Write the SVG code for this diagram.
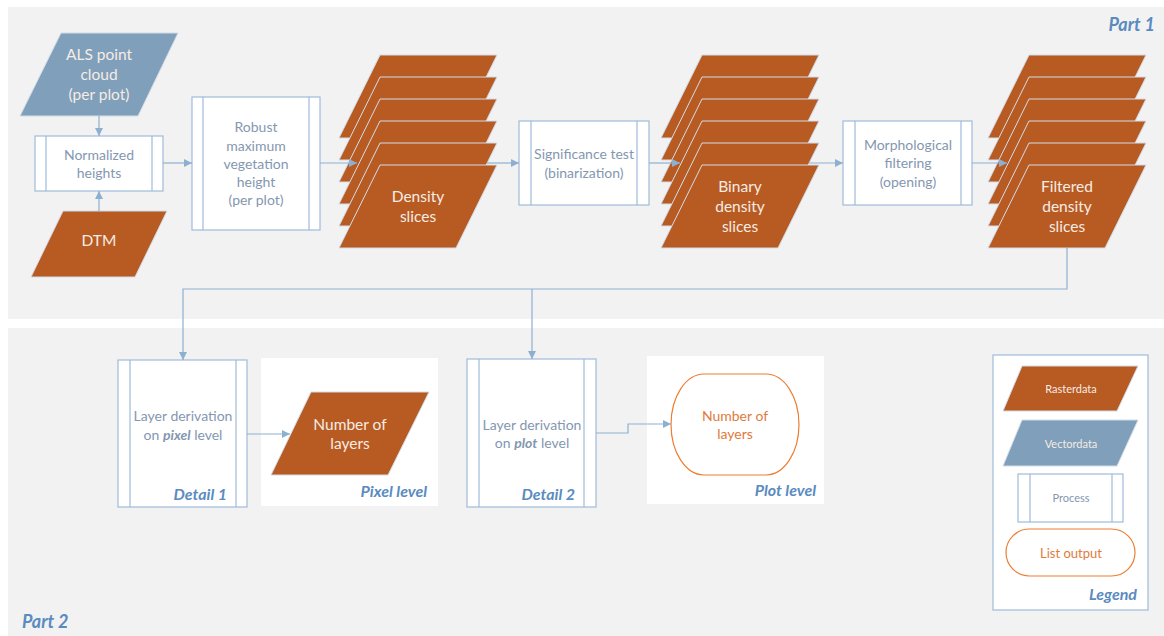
<svg xmlns="http://www.w3.org/2000/svg" xmlns:xlink="http://www.w3.org/1999/xlink" width="1164" height="636" viewBox="0 0 1164 636">
<style>
text{font-family:Lato,"Open Sans","Liberation Sans",sans-serif;font-size:14px;text-anchor:middle}
.panel{fill:#f2f2f2}
.wp{fill:#ffffff}
.proc{fill:#ffffff;stroke:#9dbbd8;stroke-width:1.2}
.pl{stroke:#9dbbd8;stroke-width:1.2}
.raster{fill:#b85b22;stroke:#d2dce8;stroke-width:1}
.vector{fill:#7f9fba;stroke:#d2dce8;stroke-width:1}
.pt{fill:#8497b0}
.wt{fill:#f6ece4;font-size:15.5px}
.ot{fill:#e07b3c}
.lbl{fill:#5a8bc0;font-weight:bold;font-style:italic;text-anchor:end;font-size:16px}
.con{fill:none;stroke:#8eb0d0;stroke-width:1.2}
</style>
<defs>
<marker id="ah" viewBox="0 0 10 10" refX="10" refY="5" markerWidth="8" markerHeight="8" orient="auto" markerUnits="userSpaceOnUse">
<path d="M0,0 L10,5 L0,10 Z" fill="#8eb0d0"/>
</marker>
<path id="slice" d="M41,0 H158 L117,83 H0 Z"/>
</defs>

<rect width="1164" height="636" fill="#ffffff"/>
<rect class="panel" x="8" y="7" width="1156" height="312"/>
<rect class="panel" x="8" y="328" width="1156" height="308"/>
<text class="lbl" x="1155" y="31" style="font-size:18px">Part 1</text>
<text class="lbl" x="22" y="628" style="text-anchor:start;font-size:18px">Part 2</text>

<g id="als">
<path class="vector" d="M61,33 H178 L138,116 H20 Z"/>
<text class="wt" x="99" y="60">ALS point</text>
<text class="wt" x="99" y="80">cloud</text>
<text class="wt" x="99" y="100">(per plot)</text>
</g>

<g id="normalized">
<rect class="proc" x="35" y="136" width="128" height="55"/>
<line class="pl" x1="46" y1="136" x2="46" y2="191"/>
<line class="pl" x1="152" y1="136" x2="152" y2="191"/>
<text class="pt" x="99" y="160">Normalized</text>
<text class="pt" x="99" y="178">heights</text>
</g>

<g id="dtm">
<path class="raster" d="M63,211 H167 L135,277 H31 Z"/>
<text class="wt" x="99" y="246">DTM</text>
</g>

<g id="robust">
<rect class="proc" x="192" y="97" width="128" height="133"/>
<line class="pl" x1="203" y1="97" x2="203" y2="230"/>
<line class="pl" x1="309" y1="97" x2="309" y2="230"/>
<text class="pt" x="256" y="132">Robust</text>
<text class="pt" x="256" y="151">maximum</text>
<text class="pt" x="256" y="169">vegetation</text>
<text class="pt" x="256" y="187">height</text>
<text class="pt" x="256" y="205">(per plot)</text>
</g>

<g id="density">
<use xlink:href="#slice" class="raster" x="339" y="55"/>
<use xlink:href="#slice" class="raster" x="339" y="77"/>
<use xlink:href="#slice" class="raster" x="339" y="99"/>
<use xlink:href="#slice" class="raster" x="339" y="121"/>
<use xlink:href="#slice" class="raster" x="339" y="143"/>
<use xlink:href="#slice" class="raster" x="339" y="165"/>
<text class="wt" x="418" y="202">Density</text>
<text class="wt" x="418" y="222">slices</text>
</g>

<g id="significance">
<rect class="proc" x="519" y="121" width="130" height="84"/>
<line class="pl" x1="531" y1="121" x2="531" y2="205"/>
<line class="pl" x1="637" y1="121" x2="637" y2="205"/>
<text class="pt" x="584" y="159">Significance test</text>
<text class="pt" x="584" y="178">(binarization)</text>
</g>

<g id="binary">
<use xlink:href="#slice" class="raster" x="661" y="55"/>
<use xlink:href="#slice" class="raster" x="661" y="77"/>
<use xlink:href="#slice" class="raster" x="661" y="99"/>
<use xlink:href="#slice" class="raster" x="661" y="121"/>
<use xlink:href="#slice" class="raster" x="661" y="143"/>
<use xlink:href="#slice" class="raster" x="661" y="165"/>
<text class="wt" x="740" y="192">Binary</text>
<text class="wt" x="740" y="212">density</text>
<text class="wt" x="740" y="232">slices</text>
</g>

<g id="morph">
<rect class="proc" x="843" y="121" width="129" height="84"/>
<line class="pl" x1="855" y1="121" x2="855" y2="205"/>
<line class="pl" x1="961" y1="121" x2="961" y2="205"/>
<text class="pt" x="908" y="150">Morphological</text>
<text class="pt" x="908" y="168">filtering</text>
<text class="pt" x="908" y="187">(opening)</text>
</g>

<g id="filtered">
<use xlink:href="#slice" class="raster" x="988" y="55"/>
<use xlink:href="#slice" class="raster" x="988" y="77"/>
<use xlink:href="#slice" class="raster" x="988" y="99"/>
<use xlink:href="#slice" class="raster" x="988" y="121"/>
<use xlink:href="#slice" class="raster" x="988" y="143"/>
<use xlink:href="#slice" class="raster" x="988" y="165"/>
<text class="wt" x="1067" y="192">Filtered</text>
<text class="wt" x="1067" y="212">density</text>
<text class="wt" x="1067" y="232">slices</text>
</g>

<g id="layer1">
<rect class="proc" x="118" y="360" width="129" height="147"/>
<line class="pl" x1="130" y1="360" x2="130" y2="507"/>
<line class="pl" x1="236" y1="360" x2="236" y2="507"/>
<text class="pt" x="183" y="421">Layer derivation</text>
<text class="pt" x="183" y="440">on <tspan font-weight="bold" font-style="italic">pixel</tspan> level</text>
<text class="lbl" x="227" y="500">Detail 1</text>
</g>

<g id="pixel">
<rect class="wp" x="261" y="358" width="177" height="148"/>
<path class="raster" d="M311,392 H429 L388,475 H271 Z"/>
<text class="wt" x="350" y="430">Number of</text>
<text class="wt" x="350" y="449">layers</text>
<text class="lbl" x="427" y="497">Pixel level</text>
</g>

<g id="layer2">
<rect class="proc" x="467" y="359" width="129" height="148"/>
<line class="pl" x1="479" y1="359" x2="479" y2="507"/>
<line class="pl" x1="584" y1="359" x2="584" y2="507"/>
<text class="pt" x="532" y="430">Layer derivation</text>
<text class="pt" x="532" y="448">on <tspan font-weight="bold" font-style="italic">plot</tspan> level</text>
<text class="lbl" x="575" y="500">Detail 2</text>
</g>

<g id="plot">
<rect class="wp" x="647" y="356" width="177" height="148"/>
<path d="M704,374 H766 A33,50.5 0 0 1 766,475 H704 A33,50.5 0 0 1 704,374 Z" fill="#ffffff" stroke="#ed7d31" stroke-width="1.2"/>
<text class="ot" x="735" y="421">Number of</text>
<text class="ot" x="735" y="439">layers</text>
<text class="lbl" x="816" y="496">Plot level</text>
</g>

<g id="legend">
<rect x="993" y="355" width="155" height="255" fill="#ffffff" stroke="#9dbbd8" stroke-width="1.2"/>
<path class="raster" d="M1022,366 H1138 L1117,411 H1003 Z"/>
<text class="wt" x="1071" y="393" style="font-size:11px">Rasterdata</text>
<path class="vector" d="M1022,420 H1138 L1117,466 H1003 Z"/>
<text class="wt" x="1071" y="448" style="font-size:11px">Vectordata</text>
<rect class="proc" x="1018" y="474" width="105" height="48"/>
<line class="pl" x1="1030" y1="474" x2="1030" y2="522"/>
<line class="pl" x1="1112" y1="474" x2="1112" y2="522"/>
<text class="pt" x="1071" y="502" style="font-size:11px">Process</text>
<rect x="1006" y="529" width="129" height="47" rx="23.5" fill="#ffffff" stroke="#ed7d31" stroke-width="1.2"/>
<text class="ot" x="1071" y="558" style="font-size:13px">List output</text>
<text class="lbl" x="1137" y="600">Legend</text>
</g>

<g id="connectors">
<path class="con" d="M99,116 V136" marker-end="url(#ah)"/>
<path class="con" d="M99,211 V191" marker-end="url(#ah)"/>
<path class="con" d="M163,163 H192" marker-end="url(#ah)"/>
<path class="con" d="M320,163 H357" marker-end="url(#ah)"/>
<path class="con" d="M487,163 H519" marker-end="url(#ah)"/>
<path class="con" d="M649,163 H680" marker-end="url(#ah)"/>
<path class="con" d="M809,163 H843" marker-end="url(#ah)"/>
<path class="con" d="M972,163 H1007" marker-end="url(#ah)"/>
<path class="con" d="M1067,248 V289 H183 V360" marker-end="url(#ah)"/>
<path class="con" d="M532,289 V359" marker-end="url(#ah)"/>
<path class="con" d="M247,434 H290" marker-end="url(#ah)"/>
<path class="con" d="M596,433 H628 V424 H671" marker-end="url(#ah)"/>
</g>
</svg>
